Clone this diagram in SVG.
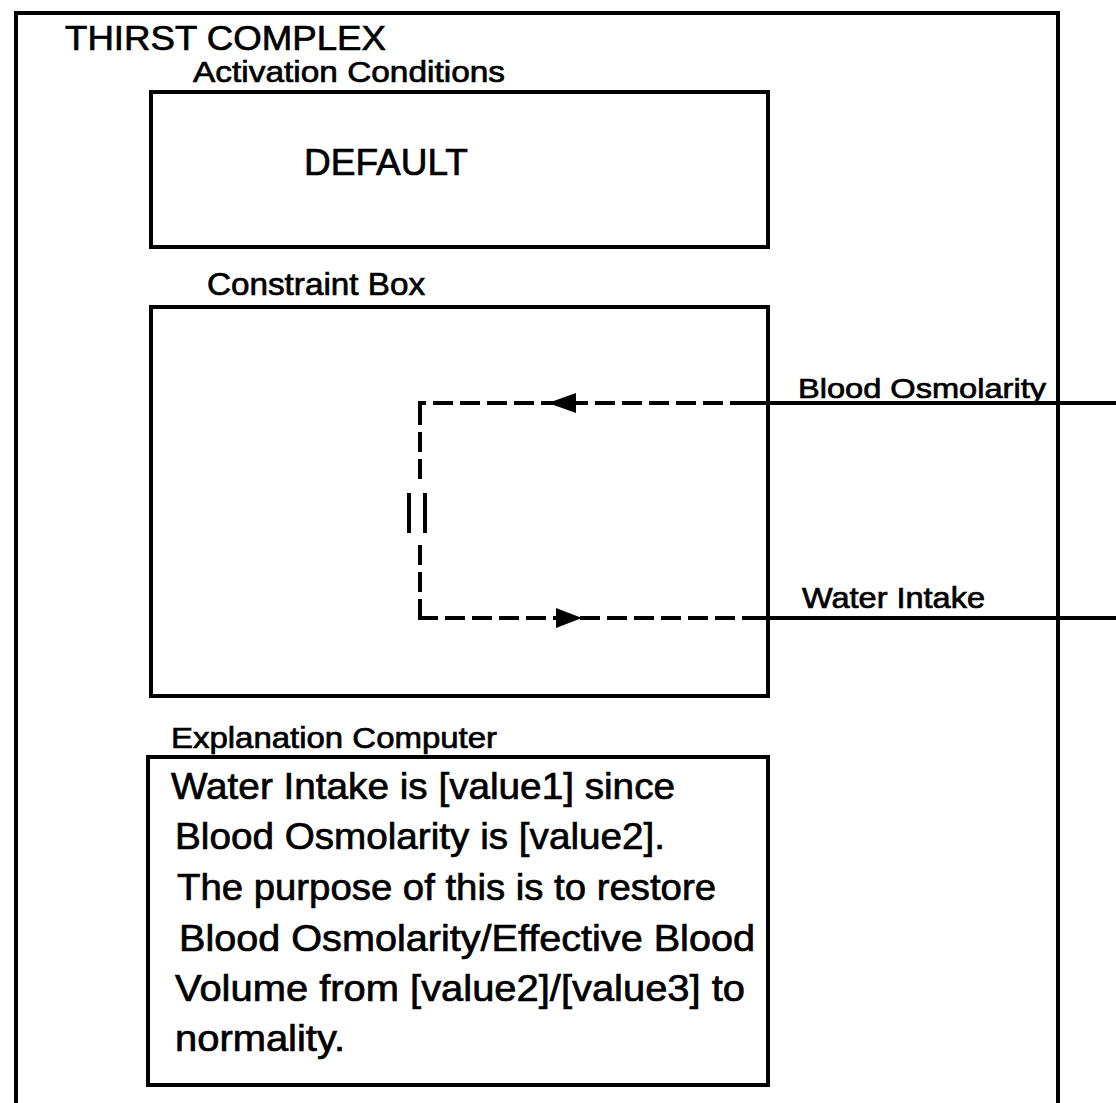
<svg xmlns="http://www.w3.org/2000/svg" width="1116" height="1103" viewBox="0 0 1116 1103">
  <style>
    .frame { fill: none; stroke: #000; stroke-width: 4; }
    .box { fill: none; stroke: #000; stroke-width: 4; }
    .lbl { font-family: "Liberation Sans", Arial, Helvetica, sans-serif; fill: #000; stroke: #000; stroke-width: 0.7; }
    .wire { fill: none; stroke: #000; stroke-width: 4; }
    .dash { fill: none; stroke: #000; stroke-width: 4; stroke-dasharray: 20 7; }
    .bar { stroke: #000; stroke-width: 4; }
    .head { fill: #000; }
  </style>

  <rect width="1116" height="1103" fill="#fff"/>

  <!-- outer complex frame, open at the bottom -->
  <g id="thirst-complex">
    <path class="frame" d="M16,1103 V13 H1058 V1103"/>
    <text class="lbl" x="65" y="50" font-size="35" textLength="321" lengthAdjust="spacingAndGlyphs">THIRST COMPLEX</text>
  </g>

  <g id="activation-conditions">
    <text class="lbl" x="193" y="82" font-size="30" textLength="312" lengthAdjust="spacingAndGlyphs">Activation Conditions</text>
    <rect class="box" x="151" y="92" width="617" height="155"/>
    <text class="lbl" x="304" y="175" font-size="37" textLength="164" lengthAdjust="spacingAndGlyphs">DEFAULT</text>
  </g>

  <g id="constraint-box">
    <text class="lbl" x="207" y="295" font-size="32" textLength="218" lengthAdjust="spacingAndGlyphs">Constraint Box</text>
    <rect class="box" x="151" y="307" width="617" height="389"/>
  </g>

  <g id="blood-osmolarity">
    <text class="lbl" x="798" y="398" font-size="28" textLength="248" lengthAdjust="spacingAndGlyphs">Blood Osmolarity</text>
  </g>

  <g id="water-intake">
    <text class="lbl" x="802" y="608" font-size="29" textLength="183" lengthAdjust="spacingAndGlyphs">Water Intake</text>
  </g>

  <g id="explanation-computer">
    <text class="lbl" x="171" y="748" font-size="30" textLength="326" lengthAdjust="spacingAndGlyphs">Explanation Computer</text>
    <rect class="box" x="148" y="757" width="620" height="328"/>
    <g class="lbl" font-size="37">
      <text x="171" y="799" textLength="504" lengthAdjust="spacingAndGlyphs">Water Intake is [value1] since</text>
      <text x="175" y="849" textLength="490" lengthAdjust="spacingAndGlyphs">Blood Osmolarity is [value2].</text>
      <text x="177" y="900" textLength="539" lengthAdjust="spacingAndGlyphs">The purpose of this is to restore</text>
      <text x="179" y="951" textLength="576" lengthAdjust="spacingAndGlyphs">Blood Osmolarity/Effective Blood</text>
      <text x="175" y="1001" textLength="570" lengthAdjust="spacingAndGlyphs">Volume from [value2]/[value3] to</text>
      <text x="175" y="1051" textLength="170" lengthAdjust="spacingAndGlyphs">normality.</text>
    </g>
  </g>

  <!-- connectors: inputs enter from the right, loop through the constraint -->
  <g id="connectors">
    <!-- Blood Osmolarity input -->
    <line class="wire" x1="1116" y1="403" x2="750" y2="403"/>
    <line class="dash" x1="750" y1="403" x2="418" y2="403"/>
    <path class="head" d="M548,403 L576,393 L576,413 z"/>
    <!-- vertical link with the equality mark -->
    <line class="dash" x1="420" y1="405" x2="420" y2="486"/>
    <line class="bar" x1="409" y1="493" x2="409" y2="533"/>
    <line class="bar" x1="425" y1="493" x2="425" y2="533"/>
    <line class="dash" x1="420" y1="545" x2="420" y2="618"/>
    <!-- Water Intake output -->
    <line class="dash" x1="418" y1="618" x2="750" y2="618"/>
    <path class="head" d="M582,618 L556,608 L556,628 z"/>
    <line class="wire" x1="750" y1="618" x2="1116" y2="618"/>
  </g>
</svg>
